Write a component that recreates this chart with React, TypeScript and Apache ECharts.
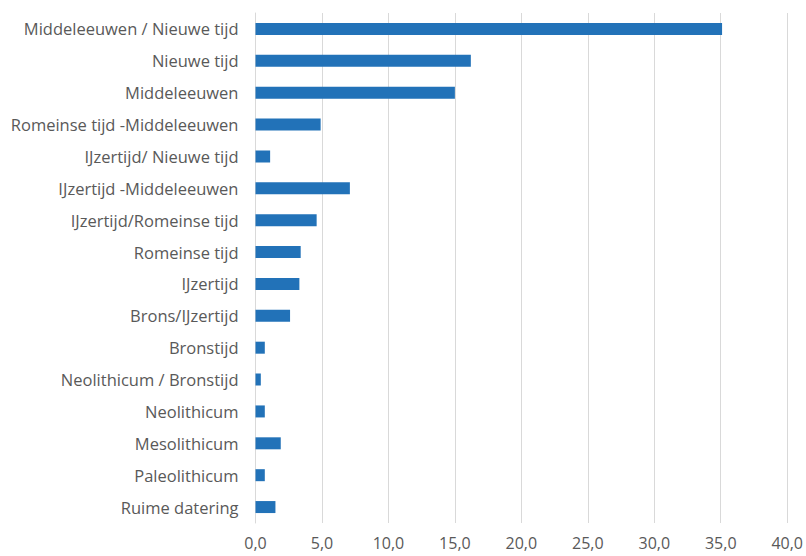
import React, { useEffect, useRef } from "react";
import * as echarts from "echarts";

const categories = [
  "Middeleeuwen / Nieuwe tijd",
  "Nieuwe tijd",
  "Middeleeuwen",
  "Romeinse tijd -Middeleeuwen",
  "IJzertijd/ Nieuwe tijd",
  "IJzertijd -Middeleeuwen",
  "IJzertijd/Romeinse tijd",
  "Romeinse tijd",
  "IJzertijd",
  "Brons/IJzertijd",
  "Bronstijd",
  "Neolithicum / Bronstijd",
  "Neolithicum",
  "Mesolithicum",
  "Paleolithicum",
  "Ruime datering",
];

const values = [35.1, 16.2, 15.0, 4.9, 1.1, 7.1, 4.6, 3.4, 3.3, 2.6, 0.7, 0.4, 0.7, 1.9, 0.7, 1.5];

const xMin = 0;
const xMax = 40;
const xInterval = 5;

export default function App() {
  const ref = useRef<HTMLDivElement>(null);
  useEffect(() => {
    if (!ref.current) return;
    const chart = echarts.init(ref.current, undefined, { renderer: "svg" });
    const font = "'Open Sans', 'Noto Sans', sans-serif";
    chart.setOption({
      animation: false,
      backgroundColor: "#ffffff",
      grid: { left: 255.5, right: 17, top: 13, bottom: 33, containLabel: false },
      xAxis: {
        type: "value",
        min: xMin,
        max: xMax,
        interval: xInterval,
        axisLine: { show: false },
        axisTick: { show: false },
        splitLine: { show: true, lineStyle: { color: "#d9d9d9", width: 1 } },
        axisLabel: {
          color: "#595959",
          fontSize: 16,
          fontFamily: font,
          margin: 12,
          formatter: (v: number) => v.toFixed(1).replace(".", ","),
        },
      },
      yAxis: {
        type: "category",
        inverse: true,
        data: categories,
        axisLine: { show: true, lineStyle: { color: "#d9d9d9", width: 1 } },
        axisTick: { show: false },
        axisLabel: { color: "#595959", fontSize: 16.5, fontFamily: font, margin: 17 },
      },
      series: [
        {
          type: "bar",
          data: values,
          barWidth: 12,
          itemStyle: { color: "#2272b8" },
        },
      ],
    });
    return () => chart.dispose();
  }, []);
  return (
    <div
      ref={ref}
      style={{ position: "fixed", left: 0, top: 0, width: 806, height: 556 }}
    />
  );
}
